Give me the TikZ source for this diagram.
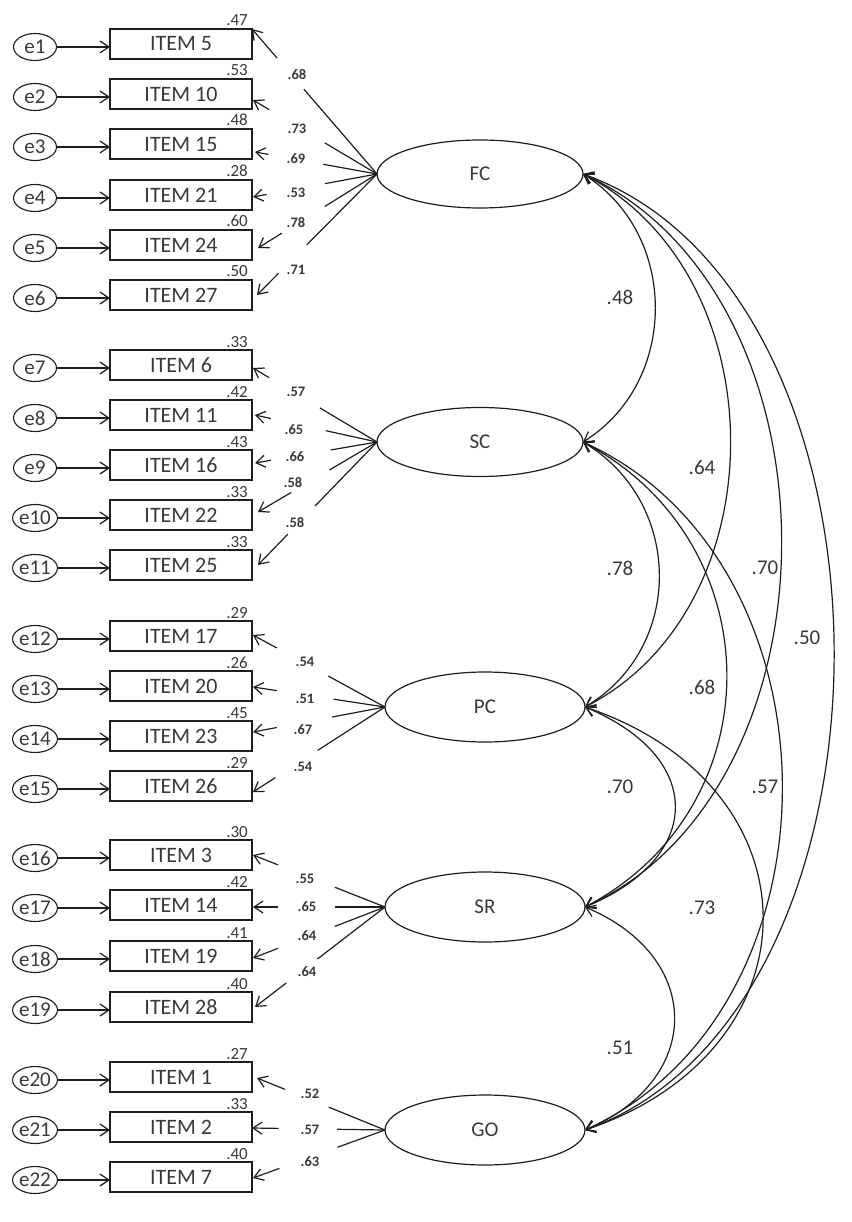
\documentclass[tikz,border=0pt]{standalone}
\usepackage{fontspec}
\setmainfont{Carlito}
\usetikzlibrary{arrows.meta,shapes.geometric,calc}
\definecolor{ln}{HTML}{1E1E1E}
\definecolor{txt}{HTML}{3A3A3A}
\newcommand\myload[4]{%
  \draw[ln1] (#1.west) -- ($(#1.west)!#3!(#2)$);
  \draw[arr] ($(#1.west)!#4!(#2)$) -- (#2);}
\newcommand\mycor[4]{%
  \draw[cor] (#1.east) .. controls +(#3,#4) and +(#3,-#4) .. (#2.east);}
\begin{document}
\begin{tikzpicture}[x=1pt,y=-1pt,
  every node/.style={text=txt},
  item/.style={draw=ln, line width=1.8pt, minimum width=142pt, minimum height=30pt, inner sep=0pt, outer sep=0pt, font=\fontsize{22}{24}\selectfont},
  err/.style={ellipse, draw=ln, line width=1.1pt, minimum width=43pt, minimum height=27pt, inner sep=0pt, outer sep=0pt, font=\fontsize{21}{24}\selectfont},
  lat/.style={ellipse, draw=ln, line width=1.2pt, inner sep=0pt, outer sep=0pt, font=\fontsize{21}{24}\selectfont},
  varlab/.style={anchor=base east, inner sep=0pt, font=\fontsize{17}{18}\selectfont},
  loadlab/.style={inner sep=0pt, font=\bfseries\fontsize{14.5}{16}\selectfont},
  corlab/.style={inner sep=0pt, font=\fontsize{21}{24}\selectfont},
  arr/.style={draw=ln, line width=1.2pt, -{Straight Barb[length=9pt,width=12pt]}},
  ln1/.style={draw=ln, line width=1.2pt},
  cor/.style={draw=ln, line width=1.2pt, {Straight Barb[length=9pt,width=12pt]}-{Straight Barb[length=9pt,width=12pt]}},
]
\fill[white] (0,0) rectangle (851,1222);
\useasboundingbox (0,0) rectangle (851,1222);

% observed items, error terms, variances
\foreach \n/\y/\v/\e in {5/44/.47/1, 10/94/.53/2, 15/144/.48/3, 21/195/.28/4, 24/245/.60/5, 27/295/.50/6,
  6/365/.33/7, 11/415/.42/8, 16/465/.43/9, 22/515/.33/10, 25/565/.33/11,
  17/636/.29/12, 20/686/.26/13, 23/736/.45/14, 26/786/.29/15,
  3/855/.30/16, 14/905/.42/17, 19/956/.41/18, 28/1007/.40/19,
  1/1077/.27/20, 2/1127/.33/21, 7/1177/.40/22}{
  \node[item] (i\n) at (181,\y) {ITEM \n};
  \node[err] (e\e) at (35,{\y+3}) {e\e};
  \draw[arr] (e\e.east) -- (e\e.east -| i\n.west);
  \node[varlab] (v\n) at ($(i\n.north east)+(-4,-3)$) {\v};
}

% latent factors
\node[lat, minimum width=206pt, minimum height=68pt] (FC) at (480,174) {FC};
\node[lat, minimum width=206pt, minimum height=69pt] (SC) at (480,442) {SC};
\node[lat, minimum width=200pt, minimum height=70pt] (PC) at (485,707) {PC};
\node[lat, minimum width=200pt, minimum height=70pt] (SR) at (485,907) {SR};
\node[lat, minimum width=200pt, minimum height=70pt] (GO) at (485,1130) {GO};

% arrow tips on items
\coordinate (t5) at (i5.north east);
\coordinate (t10) at ($(i10.east)+(1,6)$);
\coordinate (t15) at ($(i15.east)+(3,8)$);
\coordinate (t21) at ($(i21.east)+(1,2)$);
\coordinate (t24) at ($(i24.east)+(6,3)$);
\coordinate (t27) at ($(i27.east)+(5,0)$);
\coordinate (t6) at ($(i6.east)+(1,3)$);
\coordinate (t11) at ($(i11.east)+(3,0)$);
\coordinate (t16) at ($(i16.east)+(3,-2)$);
\coordinate (t22) at ($(i22.east)+(6,-3)$);
\coordinate (t25) at ($(i25.east)+(6,0)$);
\coordinate (t17) at ($(i17.east)+(1,-1)$);
\coordinate (t20) at ($(i20.east)+(1,1)$);
\coordinate (t23) at ($(i23.east)+(1,-4)$);
\coordinate (t26) at ($(i26.east)+(1,6)$);
\coordinate (t3) at ($(i3.east)+(1,0)$);
\coordinate (t14) at ($(i14.east)+(1,2)$);
\coordinate (t19) at ($(i19.east)+(1,2)$);
\coordinate (t28) at ($(i28.east)+(3,0)$);
\coordinate (t1) at ($(i1.east)+(5,1)$);
\coordinate (t2) at ($(i2.east)+(0,1)$);
\coordinate (t7) at ($(i7.east)+(1,1)$);

% loadings
\myload{FC}{t5}{0.585}{0.80}
\myload{FC}{t10}{0.42}{0.87}
\myload{FC}{t15}{0.44}{0.89}
\myload{FC}{t21}{0.42}{0.89}
\myload{FC}{t24}{0.44}{0.80}
\myload{FC}{t27}{0.585}{0.82}
\myload{SC}{t6}{0.46}{0.87}
\myload{SC}{t11}{0.42}{0.87}
\myload{SC}{t16}{0.38}{0.87}
\myload{SC}{t22}{0.40}{0.72}
\myload{SC}{t25}{0.52}{0.75}
\myload{PC}{t17}{0.43}{0.82}
\myload{PC}{t20}{0.39}{0.82}
\myload{PC}{t23}{0.40}{0.82}
\myload{PC}{t26}{0.51}{0.83}
\myload{SR}{t3}{0.38}{0.81}
\myload{SR}{t14}{0.38}{0.81}
\myload{SR}{t19}{0.38}{0.81}
\myload{SR}{t28}{0.52}{0.76}
\myload{GO}{t1}{0.44}{0.78}
\myload{GO}{t2}{0.36}{0.80}
\myload{GO}{t7}{0.36}{0.80}

% loading labels
\node[loadlab] (l5) at (297,75) {.68};
\node[loadlab] (l10) at (297,129) {.73};
\node[loadlab] (l15) at (296,159) {.69};
\node[loadlab] (l21) at (296,193) {.53};
\node[loadlab] (l24) at (296,223) {.78};
\node[loadlab] (l27) at (296,270) {.71};
\node[loadlab] (l6) at (296,392) {.57};
\node[loadlab] (l11) at (294,430) {.65};
\node[loadlab] (l16) at (295,457) {.66};
\node[loadlab] (l22) at (293,483) {.58};
\node[loadlab] (l25) at (295,523) {.58};
\node[loadlab] (l17) at (305,662) {.54};
\node[loadlab] (l20) at (305,699) {.51};
\node[loadlab] (l23) at (303,730) {.67};
\node[loadlab] (l26) at (303,767) {.54};
\node[loadlab] (l3) at (305,879) {.55};
\node[loadlab] (l14) at (307,907) {.65};
\node[loadlab] (l19) at (307,936) {.64};
\node[loadlab] (l28) at (307,972) {.64};
\node[loadlab] (l1) at (310,1094) {.52};
\node[loadlab] (l2) at (310,1130) {.57};
\node[loadlab] (l7) at (310,1162) {.63};

% correlations
\mycor{FC}{SC}{96}{60}
\mycor{FC}{PC}{195}{100}
\mycor{FC}{SR}{263}{120}
\mycor{FC}{GO}{333}{120}
\mycor{SC}{PC}{100}{60}
\mycor{SC}{SR}{190}{100}
\mycor{SC}{GO}{264}{120}
\mycor{PC}{SR}{120}{50}
\mycor{PC}{GO}{237}{80}
\mycor{SR}{GO}{119}{50}

% correlation labels
\node[corlab] (c1) at (620,297) {.48};
\node[corlab] (c2) at (702,467) {.64};
\node[corlab] (c3) at (620,568) {.78};
\node[corlab] (c4) at (765,568) {.70};
\node[corlab] (c5) at (807,638) {.50};
\node[corlab] (c6) at (702,687) {.68};
\node[corlab] (c7) at (620,787) {.70};
\node[corlab] (c8) at (765,787) {.57};
\node[corlab] (c9) at (702,908) {.73};
\node[corlab] (c10) at (620,1048) {.51};
\end{tikzpicture}
\end{document}
